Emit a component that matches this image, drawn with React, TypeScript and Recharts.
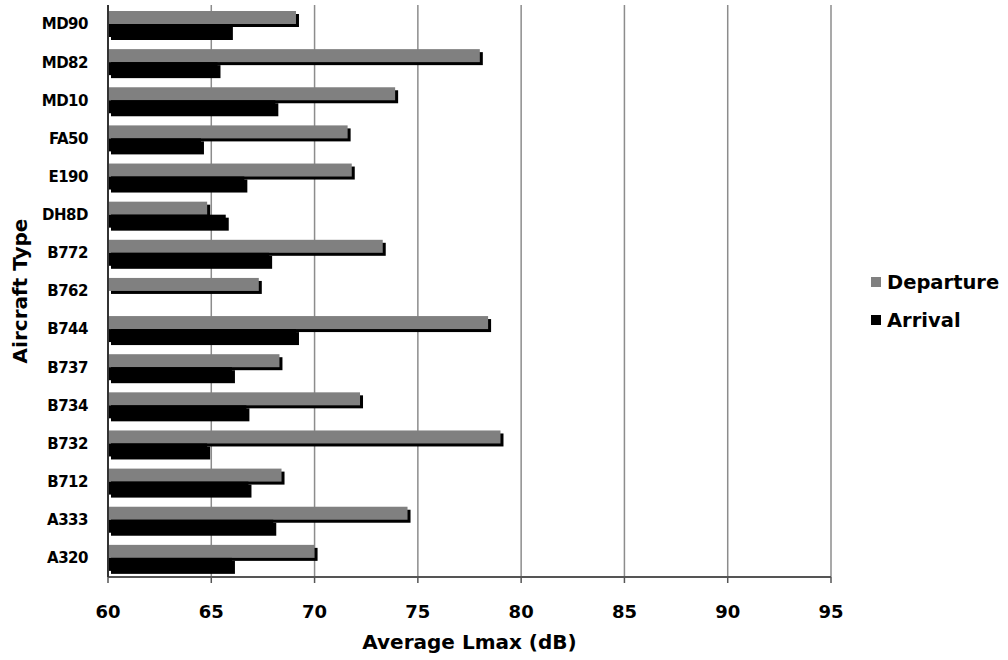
import React from 'react';
import { BarChart, Bar, XAxis, YAxis, CartesianGrid, Legend } from 'recharts';

const categories = ['MD90', 'MD82', 'MD10', 'FA50', 'E190', 'DH8D', 'B772', 'B762', 'B744', 'B737', 'B734', 'B732', 'B712', 'A333', 'A320'];
const departure = [69.1, 78.0, 73.9, 71.6, 71.8, 64.8, 73.3, 67.3, 78.4, 68.3, 72.2, 79.0, 68.4, 74.5, 70.0];
const arrival: (number | null)[] = [65.9, 65.3, 68.1, 64.5, 66.6, 65.7, 67.8, null, 69.1, 66.0, 66.7, 64.8, 66.8, 68.0, 66.0];
const xTicks = [60, 65, 70, 75, 80, 85, 90, 95];
const seriesOrder = ['Departure', 'Arrival'];

const data = categories.map((c, i) => ({ type: c, Departure: departure[i], Arrival: arrival[i] }));

const FONT = '"DejaVu Sans", Verdana, sans-serif';

const ShadowBar = (props: any) => {
  const { x, y, width, height, fill } = props;
  if (!width || width <= 0 || !height) return null;
  return (
    <g>
      <rect x={x + 3} y={y + 3} width={width} height={height} fill="#000" />
      <rect x={x} y={y} width={width} height={height} fill={fill} />
    </g>
  );
};

const renderLegend = (props: any) => {
  const payload = [...(props.payload || [])].sort(
    (a: any, b: any) => seriesOrder.indexOf(a.value) - seriesOrder.indexOf(b.value)
  );
  return (
    <div style={{ fontFamily: FONT, fontWeight: 'bold', fontSize: 19.5, color: '#000' }}>
      {payload.map((entry: any) => (
        <div key={entry.value} style={{ display: 'flex', alignItems: 'center', height: 38 }}>
          <span style={{ display: 'inline-block', width: 10, height: 10, background: entry.color, marginRight: 6 }} />
          <span>{entry.value}</span>
        </div>
      ))}
    </div>
  );
};

export default function App() {
  return (
    <div style={{ position: 'absolute', left: 0, top: 0, width: 1008, height: 660, background: '#fff' }}>
      <BarChart
        width={1008}
        height={660}
        data={data}
        layout="vertical"
        margin={{ top: 5, right: 177, bottom: 0, left: 0 }}
        barGap={0}
        barSize={13}
      >
        <CartesianGrid horizontal={false} vertical={true} stroke="#8c8c8c" strokeWidth={1.5} />
        <XAxis
          type="number"
          domain={[60, 95]}
          ticks={xTicks}
          allowDataOverflow
          height={83}
          axisLine={{ stroke: '#555', strokeWidth: 2 }}
          tickLine={{ stroke: '#555', strokeWidth: 1.5 }}
          tickSize={6}
          tickMargin={22}
          tick={{ fill: '#000', fontSize: 18, fontWeight: 'bold', fontFamily: FONT }}
          label={{
            value: 'Average Lmax (dB)',
            position: 'insideBottom',
            offset: 11,
            style: { fill: '#000', fontSize: 20, fontWeight: 'bold', fontFamily: FONT },
          }}
        />
        <XAxis
          xAxisId="top"
          orientation="top"
          type="number"
          domain={[60, 95]}
          ticks={xTicks}
          height={0}
          tick={false}
          tickLine={false}
          axisLine={{ stroke: '#8c8c8c', strokeWidth: 1.5 }}
        />
        <YAxis
          type="category"
          dataKey="type"
          width={108}
          axisLine={{ stroke: '#333', strokeWidth: 2 }}
          tickLine={false}
          tickSize={0}
          tickMargin={20}
          interval={0}
          tick={{ fill: '#000', fontSize: 15, fontWeight: 'bold', fontFamily: FONT, letterSpacing: -0.5 }}
          label={{
            value: 'Aircraft Type',
            angle: -90,
            position: 'insideLeft',
            offset: 20,
            style: { fill: '#000', fontSize: 20, fontWeight: 'bold', fontFamily: FONT, textAnchor: 'middle' },
          }}
        />
        <Legend
          layout="vertical"
          align="center"
          verticalAlign="middle"
          content={renderLegend}
          wrapperStyle={{ left: 871, top: 263, width: 137 }}
        />
        <Bar dataKey="Departure" fill="#808080" shape={ShadowBar} isAnimationActive={false} />
        <Bar dataKey="Arrival" fill="#000000" shape={ShadowBar} isAnimationActive={false} />
      </BarChart>
    </div>
  );
}
